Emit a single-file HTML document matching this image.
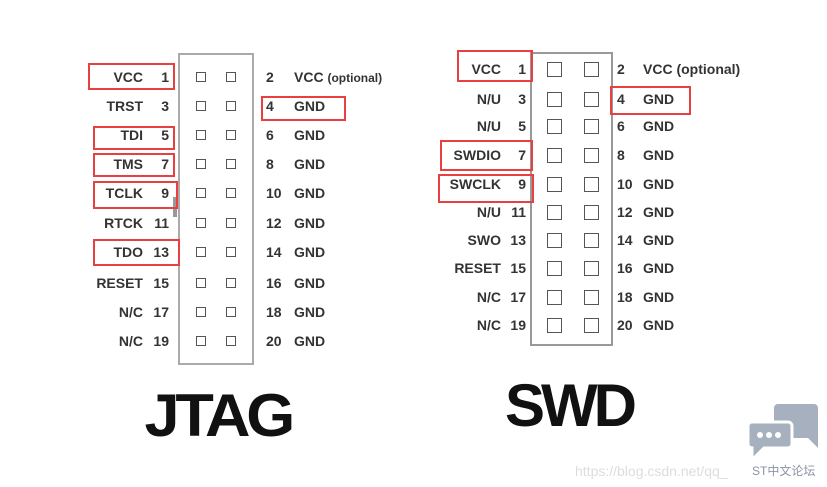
<!DOCTYPE html>
<html><head><style>
body{margin:0;width:827px;height:487px;background:#fff;position:relative;overflow:hidden;font-family:"Liberation Sans",Arial,sans-serif;}
.t{position:absolute;font-weight:bold;font-size:14px;color:#333;line-height:16px;white-space:nowrap}
.r{text-align:right}
.box{position:absolute;border:2px solid #e84040;box-sizing:border-box}
.sq{position:absolute;border:1.5px solid #555;box-sizing:border-box}
.con{position:absolute;border:2px solid #aaa;box-sizing:border-box}
</style></head><body>
<div class="con" style="left:178px;top:53px;width:76px;height:312px"></div>
<div style="position:absolute;left:173px;top:197px;width:4px;height:20px;background:#999"></div>
<div class="con" style="left:530px;top:52px;width:83px;height:294px;border-color:#999"></div>
<div id="j"></div>
<div class="box" style="left:88px;top:63px;width:87px;height:27px"></div>
<div class="box" style="left:93px;top:126px;width:82px;height:24px"></div>
<div class="box" style="left:93px;top:153px;width:82px;height:24px"></div>
<div class="box" style="left:93px;top:181px;width:85px;height:28px"></div>
<div class="box" style="left:93px;top:239px;width:87px;height:27px"></div>
<div class="box" style="left:261px;top:96px;width:85px;height:25px"></div>
<div class="box" style="left:457px;top:50px;width:76px;height:32px"></div>
<div class="box" style="left:610px;top:86px;width:81px;height:29px"></div>
<div class="box" style="left:440px;top:140px;width:93px;height:31px"></div>
<div class="box" style="left:438px;top:174px;width:96px;height:29px"></div>
<div class="t" style="left:148px;top:386px;font-size:60px;line-height:60px;font-weight:900;color:#111;letter-spacing:-4px;transform:scaleX(1.05)">JTAG</div>
<div class="t" style="left:505px;top:376px;font-size:60px;line-height:60px;font-weight:900;color:#111;letter-spacing:-4px">SWD</div>
<svg style="position:absolute;left:746px;top:400px" width="78" height="62" viewBox="0 0 78 62">
<path d="M32 4h36a4 4 0 0 1 4 4v40l-10-10H32a4 4 0 0 1-4-4V8a4 4 0 0 1 4-4z" fill="#a7b0be"/>
<path d="M6 22h36a4 4 0 0 1 4 4v18a4 4 0 0 1-4 4H18L6 60V48a4 4 0 0 1-4-4V26a4 4 0 0 1 4-4z" fill="#a7b0be" stroke="#fff" stroke-width="3"/>
<circle cx="14" cy="35" r="3" fill="#fff"/><circle cx="23" cy="35" r="3" fill="#fff"/><circle cx="32" cy="35" r="3" fill="#fff"/>
</svg>
<div class="t" style="left:575px;top:463px;font-weight:normal;color:#ddd;font-size:14px">https://blog.csdn.net/qq_</div>
<div class="t" style="left:752px;top:463px;font-weight:normal;color:#8a94a4;font-size:12px;font-family:'Liberation Sans','Noto Sans CJK SC',sans-serif">ST中文论坛</div>
<script>
var jy=[77,106,135,164,193,223,252,283,312,341];
var jn=["VCC","TRST","TDI","TMS","TCLK","RTCK","TDO","RESET","N/C","N/C"];
var sy=[69,99,126,155,184,212,240,268,297,325];
var sn=["VCC","N/U","N/U","SWDIO","SWCLK","N/U","SWO","RESET","N/C","N/C"];
var h="";
for(var i=0;i<10;i++){
 var y=jy[i]-8;
 h+='<div class="t r" style="left:60px;width:83px;top:'+y+'px">'+jn[i]+'</div>';
 h+='<div class="t r" style="left:143px;width:26px;top:'+y+'px">'+(2*i+1)+'</div>';
 h+='<div class="t" style="left:266px;top:'+y+'px">'+(2*i+2)+'</div>';
 h+='<div class="t" style="left:294px;top:'+y+'px">'+(i==0?'VCC <span style="font-size:12px">(optional)</span>':'GND')+'</div>';
 h+='<div class="sq" style="left:196px;top:'+(jy[i]-5)+'px;width:10px;height:10px"></div>';
 h+='<div class="sq" style="left:226px;top:'+(jy[i]-5)+'px;width:10px;height:10px"></div>';
 y=sy[i]-8;
 h+='<div class="t r" style="left:420px;width:81px;top:'+y+'px">'+sn[i]+'</div>';
 h+='<div class="t r" style="left:501px;width:25px;top:'+y+'px">'+(2*i+1)+'</div>';
 h+='<div class="t" style="left:617px;top:'+y+'px">'+(2*i+2)+'</div>';
 h+='<div class="t" style="left:643px;top:'+y+'px">'+(i==0?'VCC (optional)':'GND')+'</div>';
 h+='<div class="sq" style="left:547px;top:'+(sy[i]-7)+'px;width:15px;height:15px"></div>';
 h+='<div class="sq" style="left:584px;top:'+(sy[i]-7)+'px;width:15px;height:15px"></div>';
}
document.getElementById('j').innerHTML=h;
</script>
</body></html>
